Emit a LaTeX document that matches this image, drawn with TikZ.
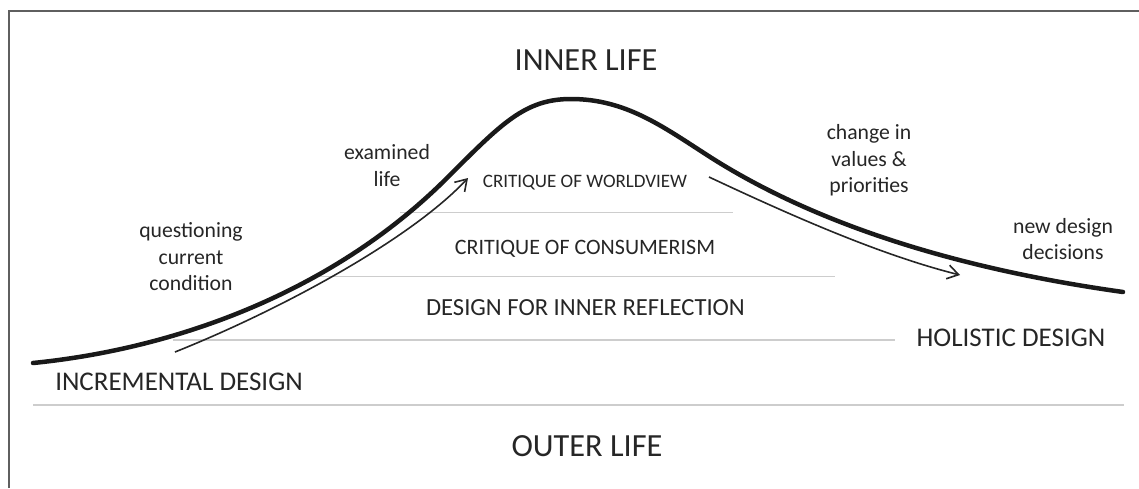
\documentclass[tikz,border=0pt]{standalone}
\usepackage{fontspec}
\setmainfont{Carlito}
\usepackage{xcolor}
\usetikzlibrary{positioning}
\usetikzlibrary{arrows.meta}

\definecolor{txtgray}{RGB}{38,38,38}
\definecolor{rulegray}{RGB}{205,205,205}
\definecolor{framegray}{RGB}{95,95,95}

\tikzset{
	note/.style={text=txtgray,align=center,inner sep=0pt,font=\fontsize{21.7}{26.5}\selectfont},
	level/.style={text=txtgray,inner sep=0pt,anchor=base},
	side/.style={text=txtgray,inner sep=0pt,anchor=base,font=\fontsize{27}{30}\selectfont},
	life/.style={text=txtgray,inner sep=0pt,anchor=base,font=\fontsize{32.3}{36}\selectfont},
	sep/.style={rulegray,line width=1.5pt},
	move/.style={-{Straight Barb[length=11pt,width=14pt]},line width=1.6pt,black!85}
}

\begin{document}
\begin{tikzpicture}[x=1pt,y=-1pt]
			\useasboundingbox (0,0) rectangle (1139,488);
			\draw[framegray,line width=2pt] (8.5,488) -- (8.5,11) -- (1139,11);
			
			\node[life] (inner) at (586,70.4) {INNER LIFE};
			\node[life] (outer) at (587,456.3) {OUTER LIFE};
			
			\node[level,font=\fontsize{19}{22}\selectfont] (worldview) at (585,187.1) {CRITIQUE OF WORLDVIEW};
			\node[level,font=\fontsize{22}{26}\selectfont] (consumer) at (585,254.1) {CRITIQUE OF CONSUMERISM};
			\node[level,font=\fontsize{24.6}{28}\selectfont] (reflection) at (585.5,315.9) {DESIGN FOR INNER REFLECTION};
			
			\node[side] (incremental) at (179,390.7) {INCREMENTAL DESIGN};
			\node[side] (holistic) at (1011,346.7) {HOLISTIC DESIGN};
			
			\node[note] (question) at (191,257) {questioning\\current\\condition};
			\node[note] (examined) at (387,165.5) {examined\\life};
			\node[note] (change) at (869,160.5) {change in\\values \&\\priorities};
			\node[note] (newdesign) at (1063,239) {new design\\decisions};
			
			% levels
			\draw[sep] (400,212.5) -- (733,212.5);
			\draw[sep] (313,276.5) -- (835,276.5);
			\draw[sep] (173,340) -- (895,340);
			\draw[sep] (33,405) -- (1124,405);
			
			% the curve
			\draw[line width=4.5pt,line cap=round,black!90] (33,363) .. controls (183,348) and (337,288) .. (447,178)
				.. controls (502,123) and (525,99) .. (571,99)
				.. controls (625,99) and (662,126) .. (707,155)
				.. controls (792,210) and (923,264) .. (1123,292);
			
			\coordinate (up0) at (175,352);
			\coordinate (up1) at (468,178);
			\coordinate (down0) at (709,177);
			\coordinate (down1) at (960,275);
			\draw[move] (up0) .. controls (280,310) and (410,240) .. (up1);
			\draw[move] (down0) .. controls (790,215) and (880,255) .. (down1);
\end{tikzpicture}
\end{document}
